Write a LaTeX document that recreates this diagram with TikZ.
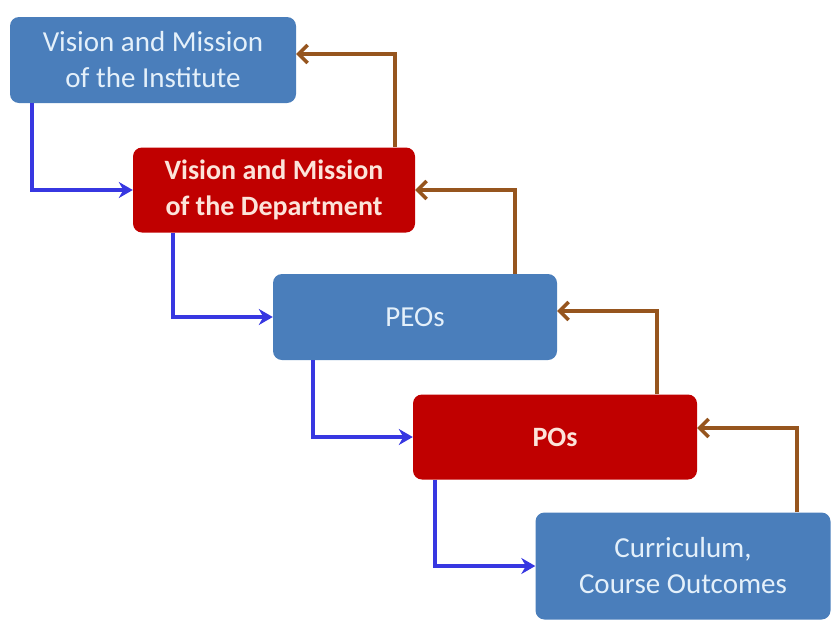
\documentclass[tikz,border=0pt]{standalone}
\usepackage{fontspec}
\setmainfont{Carlito}
\usetikzlibrary{arrows.meta}
\definecolor{boxblue}{RGB}{74,126,187}
\definecolor{boxred}{RGB}{192,0,0}
\definecolor{paleblue}{RGB}{228,240,250}
\definecolor{palepink}{RGB}{252,228,218}
\definecolor{linkblue}{RGB}{55,55,225}
\definecolor{linkbrown}{RGB}{150,85,30}
\tikzset{
  stage/.style={rounded corners=9pt, fill=boxblue, text=paleblue, align=center,
    minimum width=#1, inner sep=0pt, font=\fontsize{29}{36}\selectfont},
  stage/.default=284pt,
  keystage/.style={stage=#1, fill=boxred, text=palepink, font=\fontsize{28}{36}\selectfont\bfseries},
  keystage/.default=284pt,
  down/.style={draw=linkblue, line width=4pt, -{Stealth[length=14pt,width=16pt]}},
  up/.style={draw=linkbrown, line width=3.4pt, -{Straight Barb[length=9pt,width=18pt]}}
}

\begin{document}
\begin{tikzpicture}[x=1pt,y=1pt]
  \useasboundingbox (0,0) rectangle (832,-627);
  \node[stage=286pt, minimum height=86pt] (inst) at (153,-60) {Vision and Mission\\of the Institute};
  \node[keystage=282pt, minimum height=85pt] (dept) at (274,-190) {Vision and Mission\\of the Department};
  \node[stage, minimum height=86pt] (peo) at (415,-317) {PEOs};
  \node[keystage, minimum height=85pt] (po) at (555,-437) {POs};
  \node[stage=295pt, minimum height=107pt] (co) at (683,-566) {Curriculum,\\Course Outcomes};

  % top-down flow
  \draw[down] ([xshift=-121pt]inst.south) |- (dept.west);
  \draw[down] ([xshift=-101pt]dept.south) |- (peo.west);
  \draw[down] ([xshift=-102pt]peo.south) |- (po.west);
  \draw[down] ([xshift=-120pt]po.south) |- (co.west);

  % feedback
  \draw[up] ([xshift=121pt]dept.north) |- ([yshift=6pt]inst.east);
  \draw[up] ([xshift=100pt]peo.north) |- (dept.east);
  \draw[up] ([xshift=102pt]po.north) |- ([yshift=6pt]peo.east);
  \draw[up] ([xshift=114pt]co.north) |- ([yshift=9pt]po.east);
\end{tikzpicture}
\end{document}
